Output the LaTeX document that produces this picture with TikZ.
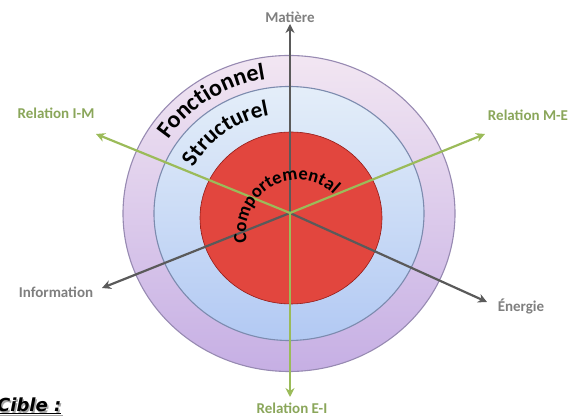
\documentclass[tikz,border=0pt]{standalone}
\usepackage{fontspec}
\setmainfont{Carlito}
\newfontfamily\ciblefont{DejaVu Sans}
\usetikzlibrary{arrows.meta,calc,decorations.text}

\definecolor{axisgray}{HTML}{5A5A5A}
\definecolor{relgreen}{HTML}{9BBB59}
\definecolor{labgray}{HTML}{7F7F7F}
\definecolor{labgreen}{HTML}{8AA65A}
\definecolor{outertop}{HTML}{F2E6F2}
\definecolor{outerbot}{HTML}{C6AFE4}
\definecolor{outerrim}{HTML}{978AB2}
\definecolor{midtop}{HTML}{E4EEF9}
\definecolor{midbot}{HTML}{B2C9F3}
\definecolor{midrim}{HTML}{7C8BAE}
\definecolor{redcore}{HTML}{E2463E}
\definecolor{redmid}{HTML}{D3362F}
\definecolor{redrim}{HTML}{AE211C}

\pgfdeclareradialshading{reddisc}{\pgfpoint{0bp}{0bp}}{%
  color(0bp)=(redcore); color(24bp)=(redcore); color(43bp)=(redmid); color(50bp)=(redrim)}

\newcommand{\ringfont}{\fontsize{24}{27}\selectfont\bfseries}
\newcommand{\midfont}{\fontsize{23}{26}\selectfont\bfseries}
\newcommand{\corefont}{\fontsize{18.5}{21}\selectfont\bfseries}

\tikzset{
  lab/.style={font=\fontsize{15}{18}\selectfont\bfseries, inner sep=1pt},
  grayarrow/.style={draw=axisgray, line width=2.2pt, -{Stealth[length=9pt,width=9pt]}},
  greenarrow/.style={draw=relgreen, line width=2.2pt, -{Stealth[length=9pt,width=9pt]}},
}

\begin{document}
\begin{tikzpicture}[x=1pt,y=1pt]
\useasboundingbox (0,0) rectangle (573,419);

% concentric levels
\path[top color=outertop, bottom color=outerbot, draw=outerrim, line width=1.1pt]
  (289,205.5) ellipse [x radius=166, y radius=158];
\path[top color=midtop, bottom color=midbot, draw=midrim, line width=1.1pt]
  (289,205.5) ellipse [x radius=135, y radius=127];
\path[shading=reddisc, draw=redrim!85!black, line width=0.6pt]
  (291,201) ellipse [x radius=91, y radius=86];

% centre and arrow ends
\coordinate (O) at (290,206);
\coordinate (tIM) at (96,285);
\coordinate (tME) at (485,285);
\coordinate (tInf) at (102,131);
\coordinate (tEne) at (487,117);
\coordinate (tEI) at (290,22);
\coordinate (tMat) at (290,395);

% labels
\node[lab, text=labgray]  (mat) at (290,402) {Matière};
\node[lab, text=labgreen] (rim) at (56,306)  {Relation I-M};
\node[lab, text=labgreen] (rme) at (528,304) {Relation M-E};
\node[lab, text=labgray]  (inf) at (56,127)  {Information};
\node[lab, text=labgray]  (ene) at (521,113) {Énergie};
\node[lab, text=labgreen] (rei) at (292,11)  {Relation E-I};

% axes
\draw[grayarrow]  (O) -- (tMat);
\draw[grayarrow]  (O) -- (tInf);
\draw[grayarrow]  (O) -- (tEne);
\draw[greenarrow] (O) -- (tIM);
\draw[greenarrow] (O) -- (tME);
\draw[greenarrow] (O) -- (tEI);

% level names along the rings
\path[decorate, decoration={text along path, text align=center,
    text={|\ringfont|Fonctionnel}}]
  ($(289,205.5)+(162:144 and 136)$) arc[start angle=162, end angle=85, x radius=144, y radius=136];
\path[decorate, decoration={text along path, text align=center,
    text={|\midfont|Structurel}}]
  ($(289,205.5)+(166:107 and 100)$) arc[start angle=166, end angle=88, x radius=107, y radius=100];
\path[decorate, decoration={text along path, text align=center,
    text={|\corefont|Comportemental}}]
  ($(298,187)+(198:52 and 52)$) arc[start angle=198, end angle=40, x radius=52, y radius=52];

% caption
\node[anchor=base west, inner sep=0pt, text=black!35,
      font=\ciblefont\bfseries\itshape\fontsize{18}{20}\selectfont] (cibleshadow) at (-1.6,5.4) {\underline{Cible :}};
\node[anchor=base west, inner sep=0pt,
      font=\ciblefont\bfseries\itshape\fontsize{18}{20}\selectfont] (cible) at (-3,7) {\underline{Cible :}};
\end{tikzpicture}
\end{document}
